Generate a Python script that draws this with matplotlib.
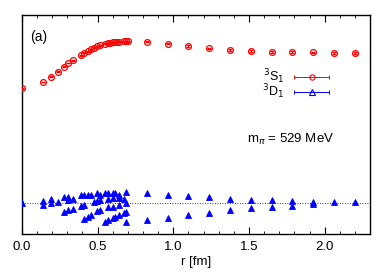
import matplotlib.pyplot as plt
from matplotlib.ticker import MultipleLocator

plt.rcParams['font.family'] = ['Liberation Sans', 'DejaVu Sans']

# S-wave (3S1) wave function, arbitrary units
s_r = [0.0, 0.137, 0.194, 0.238, 0.275, 0.307, 0.337, 0.389, 0.412, 0.434,
       0.456, 0.476, 0.495, 0.514, 0.550, 0.567, 0.583, 0.599, 0.614, 0.630,
       0.644, 0.673, 0.687, 0.700, 0.824, 0.962, 1.099, 1.237, 1.374, 1.511,
       1.649, 1.786, 1.924, 2.061, 2.198]
s_val = [1.147, 1.210, 1.263, 1.313, 1.363, 1.400, 1.427, 1.480, 1.503, 1.520,
         1.537, 1.553, 1.567, 1.577, 1.593, 1.598, 1.603, 1.607, 1.610, 1.612,
         1.615, 1.618, 1.620, 1.620, 1.613, 1.593, 1.570, 1.547, 1.530, 1.523,
         1.513, 1.510, 1.507, 1.503, 1.503]
s_err = [0.004, 0.004, 0.004, 0.004, 0.004, 0.004, 0.004, 0.005, 0.005, 0.005,
         0.005, 0.005, 0.005, 0.005, 0.005, 0.005, 0.005, 0.005, 0.005, 0.005,
         0.005, 0.005, 0.005, 0.005, 0.006, 0.007, 0.007, 0.008, 0.008, 0.008,
         0.008, 0.008, 0.008, 0.009, 0.009]

# D-wave (3D1) wave function, several lattice directions per r
d_r = [0.0,
       0.137, 0.137,
       0.194, 0.194,
       0.238,
       0.275, 0.275,
       0.307, 0.307, 0.307,
       0.337, 0.337,
       0.389, 0.389,
       0.412, 0.412, 0.412,
       0.434, 0.434,
       0.456, 0.456,
       0.476,
       0.495, 0.495, 0.495,
       0.514, 0.514, 0.514,
       0.550, 0.550,
       0.567, 0.567, 0.567, 0.567,
       0.599, 0.599, 0.599, 0.599,
       0.614, 0.614,
       0.644, 0.644, 0.644, 0.644,
       0.673, 0.673,
       0.687, 0.687, 0.687, 0.687,
       0.824, 0.824,
       0.962, 0.962,
       1.099, 1.099,
       1.237, 1.237,
       1.374, 1.374,
       1.511, 1.511,
       1.649, 1.649,
       1.786, 1.786,
       1.924, 1.924,
       2.061,
       2.198]
d_val = [0.0,
         0.023, -0.023,
         0.037, -0.003,
         0.007,
         0.057, -0.093,
         0.063, 0.030, -0.073,
         0.040, -0.063,
         0.083, -0.027,
         0.083, -0.023, -0.160,
         0.083, -0.137,
         0.077, -0.120,
         0.007,
         0.097, 0.017, -0.083,
         0.083, 0.027, -0.073,
         0.100, -0.187,
         0.103, 0.037, -0.043, -0.170,
         0.100, 0.053, -0.043, -0.153,
         0.103, -0.137,
         0.083, 0.050, -0.020, -0.123,
         0.043, -0.097,
         0.107, 0.000, -0.087, -0.190,
         0.100, -0.170,
         0.085, -0.150,
         0.070, -0.120,
         0.057, -0.097,
         0.040, -0.073,
         0.033, -0.053,
         0.027, -0.040,
         0.017, -0.027,
         0.007, -0.013,
         0.007,
         0.007]

red = '#ff0000'
blue = '#0000ff'

fig = plt.figure(figsize=(3.92, 2.74), dpi=100)
ax = fig.add_axes([0.056, 0.146, 0.888, 0.799])

ax.axhline(0.0, color='black', ls=(0, (1, 2)), lw=0.6, zorder=1)

ax.errorbar(s_r, s_val, yerr=s_err, fmt='o', ms=4.2, mfc='none', mec=red,
            mew=0.9, ecolor=red, elinewidth=0.7, capsize=1.2, zorder=3)
ax.plot(d_r, d_val, '^', ms=4.8, color=blue, mec=blue, mew=0.6, zorder=3)

ax.set_xlim(0.0, 2.30)
ax.set_ylim(-0.31, 1.88)
ax.xaxis.set_major_locator(MultipleLocator(0.5))
ax.xaxis.set_minor_locator(MultipleLocator(0.1))
ax.set_yticks([])
ax.tick_params(axis='x', which='both', direction='in', top=True, labelsize=9.5, pad=5)
ax.tick_params(axis='x', which='major', length=5, width=0.8)
ax.tick_params(axis='x', which='minor', length=2.5, width=0.6)
ax.set_xlabel('r [fm]', fontsize=9.5, labelpad=2)
for sp in ax.spines.values():
    sp.set_linewidth(1.0)

ax.text(0.023, 0.90, '(a)', transform=ax.transAxes, fontsize=10, va='center')

# key drawn gnuplot-style: label on the left, errorbar sample on the right
for yk, col, mk, lab in [(0.718, red, 'o', r'$^3$S$_1$'), (0.648, blue, '^', r'$^3$D$_1$')]:
    ax.plot([0.782, 0.882], [yk, yk], color=col, lw=0.7, transform=ax.transAxes)
    ax.plot([0.782, 0.882], [yk, yk], '|', color=col, ms=3, mew=0.7, transform=ax.transAxes)
    ax.plot([0.832], [yk], mk, ms=3.8, mfc='none', mec=col, mew=0.8, transform=ax.transAxes)
    ax.text(0.753, yk, lab, transform=ax.transAxes, ha='right', va='center', fontsize=9)

ax.text(0.773, 0.434, r'm$_\pi$ = 529 MeV', transform=ax.transAxes, ha='center',
        va='center', fontsize=9.5)

fig.savefig('out.png', dpi=100)
